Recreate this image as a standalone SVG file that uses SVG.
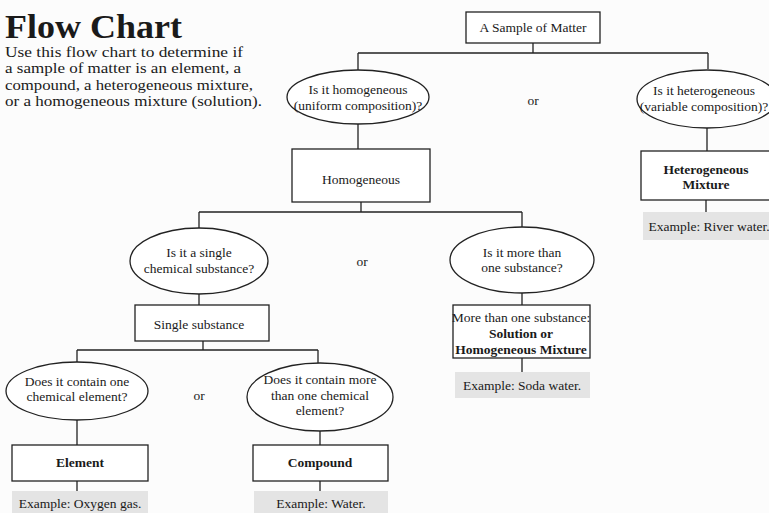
<svg xmlns="http://www.w3.org/2000/svg" width="769" height="513" viewBox="0 0 769 513">
<style>
text{font-family:"Liberation Serif","Times New Roman",serif;fill:#1a1a1a}
.t{font-size:13.5px;text-anchor:middle}
.b{font-weight:bold}
.box{fill:#fff;stroke:#222;stroke-width:1.3}
.ex{fill:#e4e4e4;stroke:none}
.ov{fill:#fff;stroke:#222;stroke-width:1.3}
.c{fill:none;stroke:#222;stroke-width:1.3}
.p{font-size:15.5px}
</style>
<rect width="769" height="513" fill="#fcfcfc"/>
<g id="intro">
<text x="5" y="38" font-size="33" font-weight="bold" textLength="177" lengthAdjust="spacingAndGlyphs">Flow Chart</text>
<text class="p" x="5" y="56.5" textLength="238" lengthAdjust="spacingAndGlyphs">Use this flow chart to determine if</text>
<text class="p" x="5" y="73" textLength="236" lengthAdjust="spacingAndGlyphs">a sample of matter is an element, a</text>
<text class="p" x="5" y="89.5" textLength="248" lengthAdjust="spacingAndGlyphs">compound, a heterogeneous mixture,</text>
<text class="p" x="5" y="106" textLength="257" lengthAdjust="spacingAndGlyphs">or a homogeneous mixture (solution).</text>
</g>
<g id="connectors">
<path class="c" d="M533 43V53M358 53H708M358 53V70M708 53V69"/>
<path class="c" d="M358 124V149M707 128V151M706 200V212"/>
<path class="c" d="M361 202V212M199 212H522M199 212V228M522 212V227"/>
<path class="c" d="M522 293V305M522 358V372"/>
<path class="c" d="M199 294V305M203 341V350M77 350H318M77 350V362M318 350V363"/>
<path class="c" d="M77 420V445M320 431V445M77 481V491M320 481V491"/>
</g>
<g id="sample"><rect class="box" x="466" y="12" width="134" height="31"/><text class="t" x="533" y="32">A Sample of Matter</text></g>
<g id="q-homog"><ellipse class="ov" cx="358" cy="97" rx="71" ry="27"/><text class="t" x="358" y="94">Is it homogeneous</text><text class="t" x="358" y="110">(uniform composition)?</text></g>
<g id="or1"><text class="t" x="533" y="105">or</text></g>
<g id="q-hetero"><ellipse class="ov" cx="707" cy="99" rx="70" ry="29"/><text class="t" x="704" y="95">Is it heterogeneous</text><text class="t" x="704" y="111">(variable composition)?</text></g>
<g id="hetero-mix"><rect class="box" x="641" y="151" width="140" height="49"/><text class="t b" x="706" y="174">Heterogeneous</text><text class="t b" x="706" y="189">Mixture</text></g>
<g id="ex-river"><rect class="ex" x="643" y="212" width="130" height="28"/><text class="t" x="709" y="231">Example: River water.</text></g>
<g id="homog"><rect class="box" x="292" y="149" width="138" height="53"/><text class="t" x="361" y="184">Homogeneous</text></g>
<g id="q-single"><ellipse class="ov" cx="199" cy="261" rx="69" ry="33"/><text class="t" x="199" y="257">Is it a single</text><text class="t" x="199" y="273">chemical substance?</text></g>
<g id="or2"><text class="t" x="362" y="266">or</text></g>
<g id="q-more"><ellipse class="ov" cx="522" cy="260" rx="72" ry="33"/><text class="t" x="522" y="257">Is it more than</text><text class="t" x="522" y="272">one substance?</text></g>
<g id="solution"><rect class="box" x="453" y="305" width="137" height="53"/><text class="t" x="521" y="322">More than one substance:</text><text class="t b" x="521" y="338">Solution or</text><text class="t b" x="521" y="354">Homogeneous Mixture</text></g>
<g id="ex-soda"><rect class="ex" x="455" y="372" width="135" height="26"/><text class="t" x="522" y="390">Example: Soda water.</text></g>
<g id="single"><rect class="box" x="135" y="305" width="134" height="36"/><text class="t" x="199" y="329">Single substance</text></g>
<g id="q-one"><ellipse class="ov" cx="77" cy="391" rx="71" ry="29"/><text class="t" x="77" y="386">Does it contain one</text><text class="t" x="77" y="401">chemical element?</text></g>
<g id="or3"><text class="t" x="199" y="400">or</text></g>
<g id="q-multi"><ellipse class="ov" cx="320" cy="397" rx="73" ry="34"/><text class="t" x="320" y="384">Does it contain more</text><text class="t" x="320" y="400">than one chemical</text><text class="t" x="320" y="415">element?</text></g>
<g id="element"><rect class="box" x="12" y="445" width="136" height="36"/><text class="t b" x="80" y="467">Element</text></g>
<g id="compound"><rect class="box" x="253" y="445" width="135" height="36"/><text class="t b" x="320" y="467">Compound</text></g>
<g id="ex-oxygen"><rect class="ex" x="12" y="491" width="136" height="24"/><text class="t" x="80" y="508">Example: Oxygen gas.</text></g>
<g id="ex-water"><rect class="ex" x="254" y="491" width="134" height="24"/><text class="t" x="321" y="508">Example: Water.</text></g>
</svg>
